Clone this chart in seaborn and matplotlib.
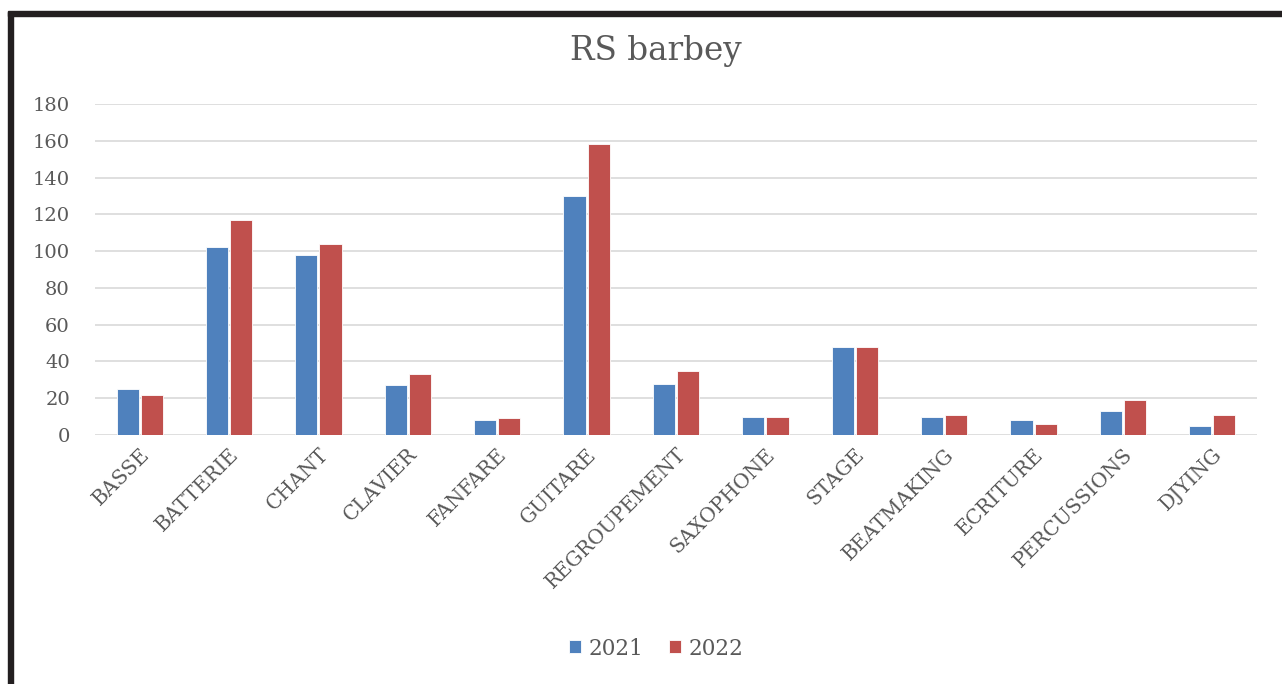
import matplotlib
matplotlib.use('Agg')
import matplotlib.pyplot as plt
import pandas as pd
import seaborn as sns
from matplotlib.patches import Rectangle

# data
categories = ['BASSE', 'BATTERIE', 'CHANT', 'CLAVIER', 'FANFARE', 'GUITARE',
              'REGROUPEMENT', 'SAXOPHONE', 'STAGE', 'BEATMAKING', 'ECRITURE',
              'PERCUSSIONS', 'DJYING']
values_2021 = [25, 102, 98, 27, 8, 130, 28, 10, 48, 10, 8, 13, 5]
values_2022 = [22, 117, 104, 33, 9, 158, 35, 10, 48, 11, 6, 19, 11]
years = ['2021', '2022']
colors = {'2021': '#4f81bd', '2022': '#c0504d'}

df = pd.concat([
    pd.DataFrame({'categorie': categories, 'valeur': values_2021, 'annee': '2021'}),
    pd.DataFrame({'categorie': categories, 'valeur': values_2022, 'annee': '2022'}),
], ignore_index=True)

sns.set_theme(style='white')
plt.rcParams['font.family'] = ['DejaVu Serif']
text_color = '#595959'

fig = plt.figure(figsize=(12.82, 6.84), dpi=100)
ax = fig.add_axes([0.0741, 0.364, 0.9064, 0.484])

sns.barplot(data=df, x='categorie', y='valeur', hue='annee', hue_order=years,
            palette=colors, width=0.54, gap=0.08, ax=ax, saturation=1,
            edgecolor='white', linewidth=0.6, legend=True)

ax.set_ylim(0, 180)
ax.set_yticks(range(0, 181, 20))
ax.set_xlim(-0.5, len(categories) - 0.5)
ax.yaxis.grid(True, color='#d9d9d9', linewidth=1.2)
ax.set_axisbelow(True)
for side in ['top', 'right', 'left', 'bottom']:
    ax.spines[side].set_visible(False)
ax.set_xlabel('')
ax.set_ylabel('')
ax.tick_params(axis='y', labelsize=14, labelcolor=text_color, length=0, pad=18)
ax.tick_params(axis='x', labelsize=14.5, labelcolor=text_color, length=0, pad=7)
plt.setp(ax.get_xticklabels(), rotation=45, ha='right', rotation_mode='anchor')

ax.set_title('RS barbey', fontsize=23.5, color=text_color, pad=32, x=0.483)

handles, labels = ax.get_legend_handles_labels()
ax.legend(handles=handles, labels=labels, loc='center', bbox_to_anchor=(0.483, -0.645),
          ncol=2, frameon=False, fontsize=15.5, handlelength=0.55, handleheight=0.55,
          columnspacing=1.2, handletextpad=0.35, labelcolor=text_color)

# frame edges visible in the screenshot
fig.patches.append(Rectangle((0.0062, 0.0), 0.0039, 0.982, transform=fig.transFigure,
                             color='#231f20', zorder=10))
fig.patches.append(Rectangle((0.0062, 0.976), 0.9938, 0.0073, transform=fig.transFigure,
                             color='#231f20', zorder=10))

fig.savefig('out.png', dpi=100)
